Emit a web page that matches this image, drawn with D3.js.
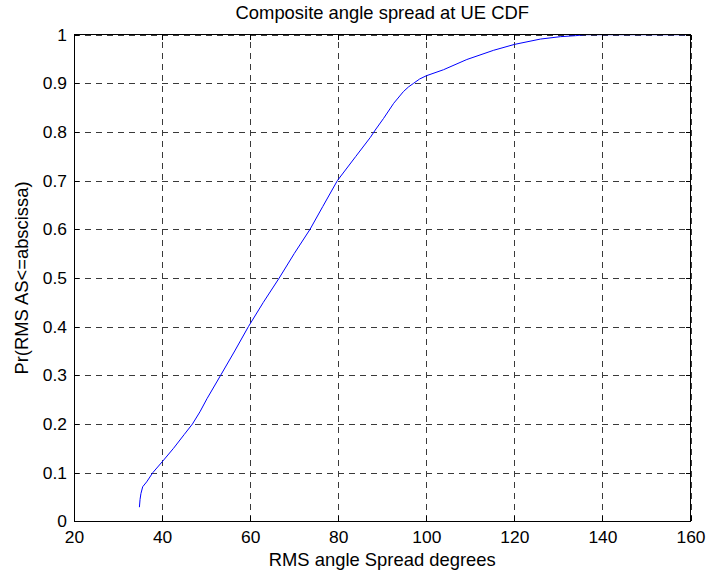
<!DOCTYPE html>
<html>
<head>
<meta charset="utf-8">
<script src="https://cdn.jsdelivr.net/npm/d3@7"></script>
<style>
  body { margin: 0; background: #fff; }
  svg { display: block; font-family: "Liberation Sans", Arial, sans-serif; }
</style>
</head>
<body>
<svg id="chart"></svg>
<script>
const spreadDeg = [34.85, 35.0, 35.2, 35.6, 36.5, 37.9, 40, 42.6, 45, 46.9, 48.6, 50.2, 53.3, 56.5,
  59.6, 63, 66.6, 70, 73.6, 76.5, 79.8, 84, 87.3, 88.4, 90.3, 92.6, 94.8, 96, 97.1, 98.5, 100,
  103.9, 109.2, 115.3, 120, 125.9, 130.5, 133.9, 136, 160];
const cdfValues = [0.029, 0.045, 0.057, 0.071, 0.081, 0.1, 0.122, 0.150, 0.178, 0.2, 0.225, 0.252,
  0.3, 0.35, 0.4, 0.45, 0.5, 0.55, 0.6, 0.647, 0.7, 0.75, 0.789, 0.804, 0.828, 0.859, 0.883, 0.893,
  0.9, 0.909, 0.9156, 0.928, 0.949, 0.968, 0.98, 0.991, 0.996, 0.998, 1.0, 1.0];

const xTicks = [20, 40, 60, 80, 100, 120, 140, 160];
const yTicks = [0, 0.1, 0.2, 0.3, 0.4, 0.5, 0.6, 0.7, 0.8, 0.9, 1];

const W = 707, H = 573;
const margin = { top: 34.7, right: 16.5, bottom: 51.7, left: 74 };
const width = W - margin.left - margin.right,
  height = H - margin.top - margin.bottom;

const svg = d3.select('#chart').attr('width', W).attr('height', H);
const g = svg.append('g').attr('transform', `translate(${margin.left},${margin.top})`);

const x = d3.scaleLinear().domain([20, 160]).range([0, width]);
const y = d3.scaleLinear().domain([0, 1]).range([height, 0]);

// dashed grid
g.append('g')
  .attr('class', 'grid')
  .attr('transform', `translate(0,${height})`)
  .call(d3.axisBottom(x).tickValues(xTicks).tickSize(-height).tickFormat(''));
g.append('g')
  .attr('class', 'grid')
  .call(d3.axisLeft(y).tickValues(yTicks).tickSize(-width).tickFormat(''));
g.selectAll('.grid .domain').remove();
g.selectAll('.grid line')
  .attr('stroke', '#3a3a3a')
  .attr('stroke-dasharray', '6,5')
  .attr('shape-rendering', 'crispEdges');

// the CDF curve
const line = d3.line()
  .x((d, i) => x(spreadDeg[i]))
  .y(d => y(d));
g.append('path')
  .datum(cdfValues)
  .attr('fill', 'none')
  .attr('stroke', '#0000ff')
  .attr('stroke-width', 1)
  .attr('d', line);

// axes, ticks pointing inward like matlab
const fmtY = d => d3.format('~g')(d);
const axBottom = g.append('g')
  .attr('transform', `translate(0,${height})`)
  .call(d3.axisBottom(x).tickValues(xTicks).tickSize(-5).tickPadding(9));
const axLeft = g.append('g')
  .call(d3.axisLeft(y).tickValues(yTicks).tickSize(-5).tickPadding(7).tickFormat(fmtY));
const axTop = g.append('g')
  .call(d3.axisTop(x).tickValues(xTicks).tickSize(-5).tickFormat(''));
const axRight = g.append('g')
  .attr('transform', `translate(${width},0)`)
  .call(d3.axisRight(y).tickValues(yTicks).tickSize(-5).tickFormat(''));

[axBottom, axLeft, axTop, axRight].forEach(a => {
  a.selectAll('path.domain').attr('stroke', '#000').attr('shape-rendering', 'crispEdges');
  a.selectAll('line').attr('stroke', '#000').attr('shape-rendering', 'crispEdges');
  a.selectAll('text')
    .attr('fill', '#000')
    .style('font-family', '"Liberation Sans", Arial, sans-serif')
    .style('font-size', '17.4px');
});
axBottom.selectAll('path.domain').attr('d', `M0,0H${width}`);
axLeft.selectAll('path.domain').attr('d', `M0,${height}V0`);
axTop.selectAll('path.domain').attr('d', `M0,0H${width}`);
axRight.selectAll('path.domain').attr('d', `M0,${height}V0`);

// title and labels
svg.append('text')
  .attr('x', margin.left + width / 2)
  .attr('y', 19)
  .attr('text-anchor', 'middle')
  .style('font-size', '18.4px')
  .text('Composite angle spread at UE CDF');

svg.append('text')
  .attr('x', margin.left + width / 2)
  .attr('y', 566)
  .attr('text-anchor', 'middle')
  .style('font-size', '18.4px')
  .text('RMS angle Spread degrees');

svg.append('text')
  .attr('transform', `translate(28,${margin.top + height / 2}) rotate(-90)`)
  .attr('text-anchor', 'middle')
  .style('font-size', '18.4px')
  .text('Pr(RMS AS<=abscissa)');
</script>
</body>
</html>
